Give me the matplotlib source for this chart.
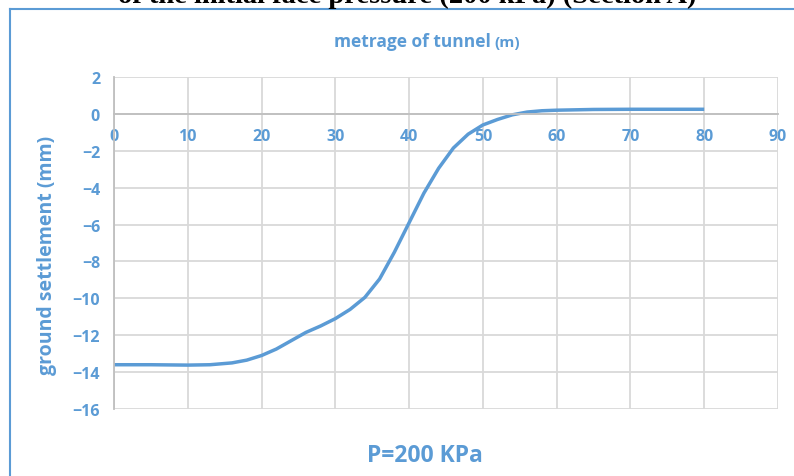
import matplotlib
matplotlib.use("Agg")
import matplotlib.pyplot as plt
from matplotlib.lines import Line2D

# values
metrage = [0, 5, 10, 13, 16, 18, 20, 22, 24, 26, 28, 30, 32, 34, 36, 38, 40,
           42, 44, 46, 48, 50, 52, 54, 56, 58, 60, 65, 70, 75, 80]
settlement = [-13.6, -13.6, -13.62, -13.6, -13.5, -13.35, -13.1, -12.75, -12.3, -11.85,
              -11.5, -11.1, -10.6, -9.95, -8.95, -7.5, -5.9,
              -4.3, -2.95, -1.85, -1.1, -0.6, -0.3, -0.05, 0.1, 0.17, 0.2, 0.24, 0.25, 0.25, 0.25]
x_ticks = [0, 10, 20, 30, 40, 50, 60, 70, 80, 90]
y_ticks = [2, 0, -2, -4, -6, -8, -10, -12, -14, -16]

blue = "#5B9BD5"
grid = "#D9D9D9"
font = "Open Sans"

fig = plt.figure(figsize=(7.94, 4.77), dpi=100)
ax = fig.add_axes([114 / 794, 1 - 410 / 477, 664 / 794, 332 / 477])

ax.plot(metrage, settlement, color=blue, lw=2.5, solid_capstyle="butt")

ax.set_xlim(0, 90)
ax.set_ylim(-16, 2)
ax.set_xticks(x_ticks)
ax.set_yticks(y_ticks)
ax.grid(True, color=grid, lw=1.3)
ax.set_axisbelow(True)

# x axis sits on y=0
ax.spines["bottom"].set_position(("data", 0))
for s in ["top", "right"]:
    ax.spines[s].set_visible(False)
ax.spines["bottom"].set_color("#BFBFBF")
ax.spines["left"].set_color("#BFBFBF")
ax.spines["bottom"].set_linewidth(1.3)
ax.spines["left"].set_linewidth(1.3)
ax.tick_params(length=0, labelcolor=blue)
ax.tick_params(axis="x", pad=10)
ax.tick_params(axis="y", pad=10)
for lab in ax.get_xticklabels() + ax.get_yticklabels():
    lab.set_fontfamily(font)
    lab.set_fontweight("bold")
    lab.set_fontsize(11.5)

fig.text(412 / 794, 1 - 42 / 477, "metrage of tunnel", color=blue,
         fontfamily=font, fontweight="bold", fontsize=12.5, ha="center", va="center")
fig.text(494 / 794, 1 - 43 / 477, "(m)", color=blue,
         fontfamily=font, fontweight="bold", fontsize=11, ha="left", va="center")
fig.text(47 / 794, 1 - 255 / 477, "ground settlement (mm)", color=blue,
         fontfamily=font, fontweight="bold", fontsize=14, rotation=90,
         ha="center", va="center")
fig.text(425 / 794, 1 - 456 / 477, "P=200 KPa", color=blue,
         fontfamily=font, fontweight="bold", fontsize=16.5, ha="center", va="center")

# caption line cut off at the top
fig.text(407 / 794, 1 - 3 / 477, "of the initial face pressure (200 kPa) (Section A)",
         fontfamily="Liberation Serif", fontweight="bold", fontsize=20.5,
         ha="center", va="baseline", color="black")

# chart border
fig.add_artist(Line2D([10 / 794, 10 / 794], [0, 1 - 10 / 477], transform=fig.transFigure,
                      color=blue, lw=1.5))
fig.add_artist(Line2D([10 / 794, 1], [1 - 10 / 477, 1 - 10 / 477], transform=fig.transFigure,
                      color=blue, lw=1.5))

fig.savefig("out.png", dpi=100)
